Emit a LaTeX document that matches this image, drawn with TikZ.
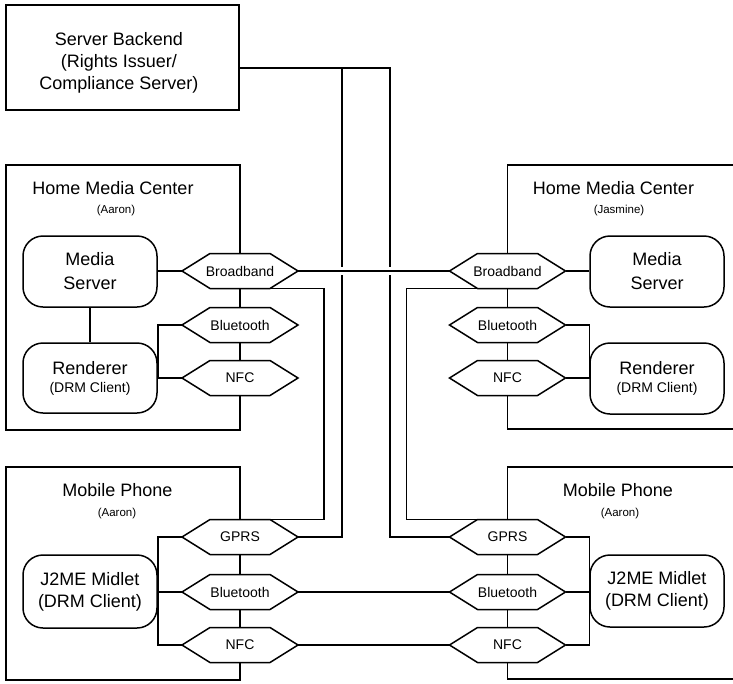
\documentclass[tikz,border=0pt]{standalone}
\usepackage{fontspec}
\setmainfont{Liberation Sans}
\newcommand\hexa[4]{%
  \draw[lw, fill=white, line join=miter] (#2-58,#3) -- (#2-30,#3-17.5) -- (#2+30,#3-17.5) -- (#2+58,#3) -- (#2+30,#3+17.5) -- (#2-30,#3+17.5) -- cycle;
  \node[htext] (#1) at (#2,#3) {#4};}
\begin{document}
\begin{tikzpicture}[x=1pt,y=-1pt,
  lw/.style={line width=1.5pt},
  rbox/.style={draw, lw, rounded corners=20pt, minimum width=134pt, inner sep=0pt, align=center, font=\fontsize{18}{22}\selectfont},
  htext/.style={inner sep=0pt, outer sep=0pt, minimum width=116pt, minimum height=35pt, font=\fontsize{14}{16}\selectfont},
  big/.style={font=\fontsize{18}{22}\selectfont, inner sep=0pt, anchor=base},
  small/.style={font=\fontsize{11.5}{14}\selectfont, inner sep=0pt, anchor=base}
]
\useasboundingbox (0,0) rectangle (733,683);

% Server backend
\node[draw, lw, minimum width=233pt, minimum height=105pt, inner sep=0pt, outer sep=0pt] (srv) at (122.5,57.5) {};
\node[align=center, font=\fontsize{18}{22}\selectfont, inner sep=0pt] (srvtxt) at (119,62.5) {Server Backend\\(Rights Issuer/\\Compliance Server)};

% containers
\draw[lw] (6,165) rectangle (240,430);
\draw[lw] (6,467) rectangle (240,680);
\draw[lw] (733,165) -- (507.5,165) -- (507.5,429) -- (733,429);
\draw[lw] (733,467) -- (507.5,467) -- (507.5,679) -- (733,679);

\node[big] (hmcL) at (113,194.5) {Home Media Center};
\node[small] (hmcLo) at (116,213) {(Aaron)};
\node[big] (hmcR) at (613.5,194.5) {Home Media Center};
\node[small] (hmcRo) at (619,213) {(Jasmine)};
\node[big] (mpL) at (117.5,496.5) {Mobile Phone};
\node[small] (mpLo) at (117,516) {(Aaron)};
\node[big] (mpR) at (618,496.5) {Mobile Phone};
\node[small] (mpRo) at (620,516) {(Aaron)};

% device boxes
\node[rbox, minimum height=71pt] (msL) at (90,271.5) {Media\\[2pt]Server};
\node[rbox, minimum height=70pt] (rnL) at (90,378) {Renderer\\[-4pt]{\fontsize{14}{16}\selectfont(DRM Client)}};
\node[rbox, minimum height=71pt] (msR) at (657,271.5) {Media\\[2pt]Server};
\node[rbox, minimum height=71pt] (rnR) at (657,378.5) {Renderer\\[-4pt]{\fontsize{14}{16}\selectfont(DRM Client)}};
\node[rbox, minimum height=73pt] (j2L) at (90,591.5) {J2ME Midlet\\(DRM Client)};
\node[rbox, minimum height=72pt] (j2R) at (657,591) {J2ME Midlet\\(DRM Client)};

% hexagons
\hexa{bbL}{240}{271}{Broadband}
\hexa{btL}{240}{325}{Bluetooth}
\hexa{nfL}{240}{378}{NFC}
\hexa{bbR}{507.5}{271}{Broadband}
\hexa{btR}{507.5}{325}{Bluetooth}
\hexa{nfR}{507.5}{378}{NFC}
\hexa{gpML}{240}{537}{GPRS}
\hexa{btML}{240}{592}{Bluetooth}
\hexa{nfML}{240}{645}{NFC}
\hexa{gpMR}{507.5}{537}{GPRS}
\hexa{btMR}{507.5}{592}{Bluetooth}
\hexa{nfMR}{507.5}{645}{NFC}

% server lines
\coordinate (jL) at (342,68);
\coordinate (jR) at (390,68);
\draw[lw] ([yshift=-10.5pt]srv.east) -- (jR) |- (gpMR.west);
\draw[lw] (jL) |- (gpML.east);

% Broadband to GPRS links
\draw[lw] ([xshift=-28pt]bbL.south east) -- ++(54,0) |- ([xshift=-28pt]gpML.north east);
\draw[lw] ([xshift=28pt]bbR.south west) -- ++(-71,0) |- ([xshift=28pt]gpMR.north west);

% crossing gap and broadband link
\draw[white, line width=8pt] ([xshift=20pt]bbL.east) -- ([xshift=-20pt]bbR.west);
\draw[lw] (bbL.east) -- (bbR.west);

% other links
\draw[lw] (btML.east) -- (btMR.west);
\draw[lw] (nfML.east) -- (nfMR.west);

\draw[lw] (bbL.west) -- (bbL.west -| msL.east);
\draw[lw] (msL.south) -- (rnL.north);
\draw[lw] (btL.west) -| (rnL.east);
\draw[lw] (nfL.west) -- (nfL.west -| rnL.east);

\draw[lw] (bbR.east) -- (bbR.east -| msR.west);
\draw[lw] (btR.east) -| (rnR.west);
\draw[lw] (nfR.east) -- (nfR.east -| rnR.west);

\draw[lw] (gpML.west) -| (j2L.east) |- (nfML.west);
\draw[lw] (btML.west) -- (btML.west -| j2L.east);
\draw[lw] (gpMR.east) -| (j2R.west) |- (nfMR.east);
\draw[lw] (btMR.east) -- (btMR.east -| j2R.west);
\end{tikzpicture}
\end{document}
